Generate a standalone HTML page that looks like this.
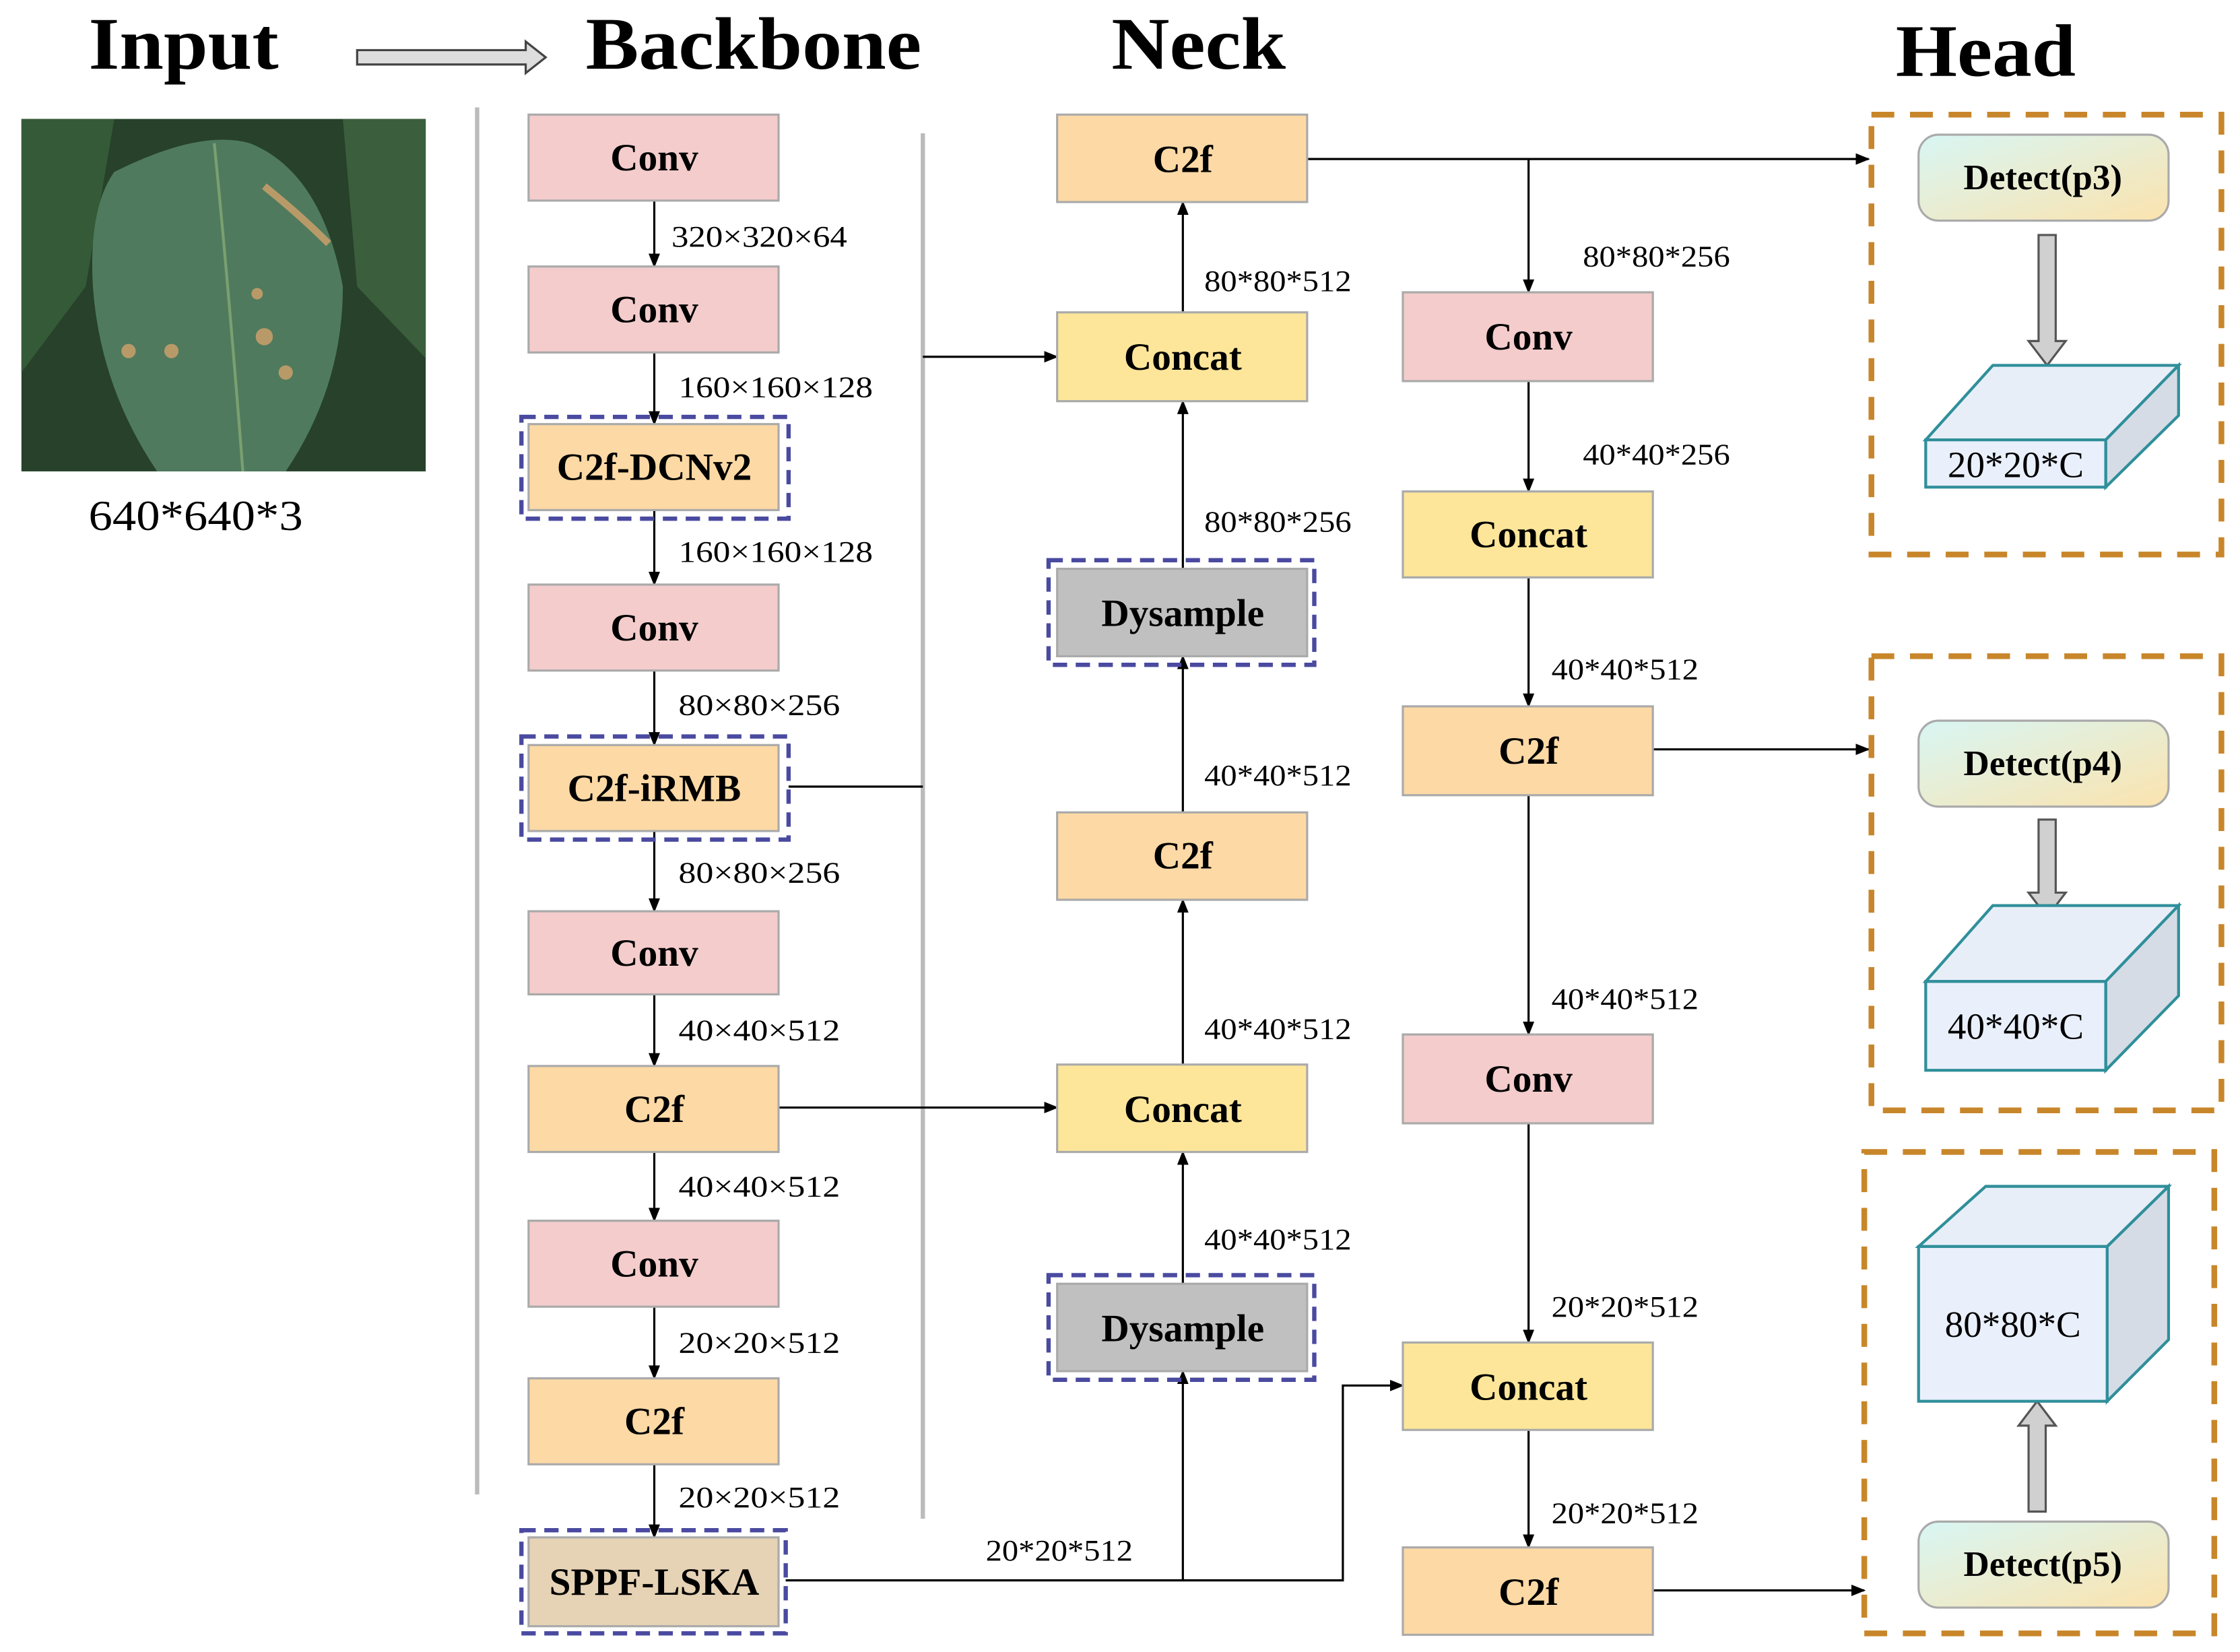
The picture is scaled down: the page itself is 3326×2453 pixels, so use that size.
<!DOCTYPE html>
<html><head><meta charset="utf-8"><style>
html,body{margin:0;padding:0;background:#fff;}
svg{display:block;}
text{font-family:"Liberation Serif",serif;}
.b{font-weight:bold;font-size:27px;text-anchor:middle;}
.l{font-size:21px;}
</style></head><body>
<svg width="3326" height="2453" viewBox="0 0 1568 1153" preserveAspectRatio="none" xmlns="http://www.w3.org/2000/svg">
<defs>
<marker id="a" markerWidth="10" markerHeight="10" refX="9" refY="5" orient="auto" markerUnits="userSpaceOnUse"><path d="M0,1 L10,5 L0,9 z" fill="#000"/></marker>
<linearGradient id="g" x1="0" y1="0" x2="1" y2="1"><stop offset="0" stop-color="#d8f6f4"/><stop offset="1" stop-color="#fbe3ae"/></linearGradient>
</defs>
<!-- titles -->
<text x="62" y="48" font-size="52" font-weight="bold" textLength="133" lengthAdjust="spacingAndGlyphs">Input</text>
<text x="410" y="48" font-size="52" font-weight="bold" textLength="235" lengthAdjust="spacingAndGlyphs">Backbone</text>
<text x="778" y="48" font-size="52" font-weight="bold" textLength="122" lengthAdjust="spacingAndGlyphs">Neck</text>
<text x="1327" y="53" font-size="52" font-weight="bold" textLength="126" lengthAdjust="spacingAndGlyphs">Head</text>
<path d="M250,35 L368,35 L368,29 L382,40 L368,51 L368,45 L250,45 z" fill="#ddd" stroke="#444" stroke-width="1.5"/>
<!-- leaf -->
<rect x="15" y="83" width="283" height="246" fill="#27412a"/>
<path d="M15,83 L80,83 L60,200 L15,260z" fill="#355a38"/>
<path d="M240,83 L298,83 L298,250 L250,200z" fill="#3b5f3c"/>
<path d="M80,120 Q140,90 175,100 Q225,120 240,200 Q240,270 200,329 L110,329 Q70,270 65,200 Q62,145 80,120z" fill="#4f7a5e"/>
<path d="M150,100 Q160,200 170,329" stroke="#7aa070" stroke-width="2" fill="none"/>
<path d="M185,130 Q210,150 230,170" stroke="#b89a68" stroke-width="5" fill="none"/>
<circle cx="90" cy="245" r="5" fill="#b89a68"/><circle cx="120" cy="245" r="5" fill="#b89a68"/><circle cx="185" cy="235" r="6" fill="#b89a68"/><circle cx="200" cy="260" r="5" fill="#b89a68"/><circle cx="180" cy="205" r="4" fill="#b89a68"/>
<text x="62" y="370" font-size="30" textLength="150" lengthAdjust="spacingAndGlyphs">640*640*3</text>
<!-- grey lines -->
<line x1="334" y1="75" x2="334" y2="1043" stroke="#bbb" stroke-width="3"/>
<line x1="646" y1="93" x2="646" y2="1060" stroke="#bbb" stroke-width="3"/>
<g stroke="#000" stroke-width="1.5" fill="none">
<line x1="458" y1="140" x2="458" y2="186" marker-end="url(#a)"/>
<line x1="458" y1="246" x2="458" y2="296" marker-end="url(#a)"/>
<line x1="458" y1="356" x2="458" y2="408" marker-end="url(#a)"/>
<line x1="458" y1="468" x2="458" y2="520" marker-end="url(#a)"/>
<line x1="458" y1="580" x2="458" y2="636" marker-end="url(#a)"/>
<line x1="458" y1="694" x2="458" y2="744" marker-end="url(#a)"/>
<line x1="458" y1="804" x2="458" y2="852" marker-end="url(#a)"/>
<line x1="458" y1="912" x2="458" y2="962" marker-end="url(#a)"/>
<line x1="458" y1="1022" x2="458" y2="1073" marker-end="url(#a)"/>
<path d="M552,549 L646,549"/>
<line x1="646" y1="249" x2="740" y2="249" marker-end="url(#a)"/>
<line x1="545" y1="773" x2="740" y2="773" marker-end="url(#a)"/>
<path d="M550,1103 L940,1103 L940,967 L982,967" marker-end="url(#a)"/>
<line x1="828" y1="1103" x2="828" y2="957" marker-end="url(#a)"/>
<line x1="828" y1="896" x2="828" y2="804" marker-end="url(#a)"/>
<line x1="828" y1="743" x2="828" y2="628" marker-end="url(#a)"/>
<line x1="828" y1="567" x2="828" y2="458" marker-end="url(#a)"/>
<line x1="828" y1="397" x2="828" y2="280" marker-end="url(#a)"/>
<line x1="828" y1="218" x2="828" y2="141" marker-end="url(#a)"/>
<line x1="915" y1="111" x2="1308" y2="111" marker-end="url(#a)"/>
<line x1="1070" y1="111" x2="1070" y2="204" marker-end="url(#a)"/>
<line x1="1070" y1="266" x2="1070" y2="343" marker-end="url(#a)"/>
<line x1="1070" y1="403" x2="1070" y2="493" marker-end="url(#a)"/>
<line x1="1070" y1="555" x2="1070" y2="722" marker-end="url(#a)"/>
<line x1="1070" y1="784" x2="1070" y2="937" marker-end="url(#a)"/>
<line x1="1070" y1="998" x2="1070" y2="1080" marker-end="url(#a)"/>
<line x1="1157" y1="523" x2="1308" y2="523" marker-end="url(#a)"/>
<line x1="1157" y1="1110" x2="1305" y2="1110" marker-end="url(#a)"/>
</g>
<g stroke="#aaa" stroke-width="1.5">
<rect x="370" y="80" width="175" height="60" fill="#f4cccc"/>
<rect x="370" y="186" width="175" height="60" fill="#f4cccc"/>
<rect x="370" y="296" width="175" height="60" fill="#fdd9a5"/>
<rect x="370" y="408" width="175" height="60" fill="#f4cccc"/>
<rect x="370" y="520" width="175" height="60" fill="#fdd9a5"/>
<rect x="370" y="636" width="175" height="58" fill="#f4cccc"/>
<rect x="370" y="744" width="175" height="60" fill="#fdd9a5"/>
<rect x="370" y="852" width="175" height="60" fill="#f4cccc"/>
<rect x="370" y="962" width="175" height="60" fill="#fdd9a5"/>
<rect x="370" y="1073" width="175" height="62" fill="#e6d2b5"/>
<rect x="740" y="80" width="175" height="61" fill="#fdd9a5"/>
<rect x="740" y="218" width="175" height="62" fill="#fde69a"/>
<rect x="740" y="397" width="175" height="61" fill="#c0c0c0"/>
<rect x="740" y="567" width="175" height="61" fill="#fdd9a5"/>
<rect x="740" y="743" width="175" height="61" fill="#fde69a"/>
<rect x="740" y="896" width="175" height="61" fill="#c0c0c0"/>
<rect x="982" y="204" width="175" height="62" fill="#f4cccc"/>
<rect x="982" y="343" width="175" height="60" fill="#fde69a"/>
<rect x="982" y="493" width="175" height="62" fill="#fdd9a5"/>
<rect x="982" y="722" width="175" height="62" fill="#f4cccc"/>
<rect x="982" y="937" width="175" height="61" fill="#fde69a"/>
<rect x="982" y="1080" width="175" height="61" fill="#fdd9a5"/>
</g>
<g fill="none" stroke="#4a4aa0" stroke-width="3" stroke-dasharray="10 6">
<rect x="365" y="291" width="187" height="71"/>
<rect x="365" y="514" width="187" height="72"/>
<rect x="365" y="1068" width="185" height="72"/>
<rect x="734" y="391" width="186" height="73"/>
<rect x="734" y="890" width="186" height="73"/>
</g>
<g class="b">
<text x="458" y="119">Conv</text><text x="458" y="225">Conv</text>
<text x="458" y="335">C2f-DCNv2</text><text x="458" y="447">Conv</text>
<text x="458" y="559">C2f-iRMB</text><text x="458" y="674">Conv</text>
<text x="458" y="783">C2f</text><text x="458" y="891">Conv</text>
<text x="458" y="1001">C2f</text><text x="458" y="1113">SPPF-LSKA</text>
<text x="828" y="120">C2f</text><text x="828" y="258">Concat</text>
<text x="828" y="437">Dysample</text><text x="828" y="606">C2f</text>
<text x="828" y="783">Concat</text><text x="828" y="936">Dysample</text>
<text x="1070" y="244">Conv</text><text x="1070" y="382">Concat</text>
<text x="1070" y="533">C2f</text><text x="1070" y="762">Conv</text>
<text x="1070" y="977">Concat</text><text x="1070" y="1120">C2f</text>
</g>
<g class="l">
<text x="470" y="172" textLength="123" lengthAdjust="spacingAndGlyphs">320×320×64</text><text x="475" y="277" textLength="136" lengthAdjust="spacingAndGlyphs">160×160×128</text>
<text x="475" y="392" textLength="136" lengthAdjust="spacingAndGlyphs">160×160×128</text><text x="475" y="499" textLength="113" lengthAdjust="spacingAndGlyphs">80×80×256</text>
<text x="475" y="616" textLength="113" lengthAdjust="spacingAndGlyphs">80×80×256</text><text x="475" y="726" textLength="113" lengthAdjust="spacingAndGlyphs">40×40×512</text>
<text x="475" y="835" textLength="113" lengthAdjust="spacingAndGlyphs">40×40×512</text><text x="475" y="944" textLength="113" lengthAdjust="spacingAndGlyphs">20×20×512</text>
<text x="475" y="1052" textLength="113" lengthAdjust="spacingAndGlyphs">20×20×512</text>
<text x="843" y="203" textLength="103" lengthAdjust="spacingAndGlyphs">80*80*512</text><text x="843" y="371" textLength="103" lengthAdjust="spacingAndGlyphs">80*80*256</text>
<text x="843" y="548" textLength="103" lengthAdjust="spacingAndGlyphs">40*40*512</text><text x="843" y="725" textLength="103" lengthAdjust="spacingAndGlyphs">40*40*512</text>
<text x="843" y="872" textLength="103" lengthAdjust="spacingAndGlyphs">40*40*512</text><text x="690" y="1089" textLength="103" lengthAdjust="spacingAndGlyphs">20*20*512</text>
<text x="1108" y="186" textLength="103" lengthAdjust="spacingAndGlyphs">80*80*256</text><text x="1108" y="324" textLength="103" lengthAdjust="spacingAndGlyphs">40*40*256</text>
<text x="1086" y="474" textLength="103" lengthAdjust="spacingAndGlyphs">40*40*512</text><text x="1086" y="704" textLength="103" lengthAdjust="spacingAndGlyphs">40*40*512</text>
<text x="1086" y="919" textLength="103" lengthAdjust="spacingAndGlyphs">20*20*512</text><text x="1086" y="1063" textLength="103" lengthAdjust="spacingAndGlyphs">20*20*512</text>
</g>
<g fill="none" stroke="#c8862a" stroke-width="4" stroke-dasharray="16 11">
<rect x="1310" y="80" width="245" height="307"/>
<rect x="1310" y="458" width="245" height="317"/>
<rect x="1305" y="804" width="245" height="336"/>
</g>
<g stroke="#aaa" stroke-width="1.5" fill="url(#g)">
<rect x="1343" y="94" width="175" height="60" rx="14"/>
<rect x="1343" y="503" width="175" height="60" rx="14"/>
<rect x="1343" y="1062" width="175" height="60" rx="14"/>
</g>
<g class="b">
<text x="1430" y="132" font-size="25">Detect(p3)</text>
<text x="1430" y="541" font-size="25">Detect(p4)</text>
<text x="1430" y="1100" font-size="25">Detect(p5)</text>
</g>
<g fill="#d0d0d0" stroke="#555" stroke-width="1.5">
<path d="M1427,164 L1439,164 L1439,238 L1446,238 L1433,255 L1420,238 L1427,238 z"/>
<path d="M1427,572 L1439,572 L1439,623 L1446,623 L1433,640 L1420,623 L1427,623 z"/>
<path d="M1420,1055 L1432,1055 L1432,995 L1439,995 L1426,978 L1413,995 L1420,995 z"/>
</g>
<g stroke="#2f8f9a" stroke-width="2">
<path d="M1348,307 L1395,255 L1525,255 L1474,307 z" fill="#e8eef8"/>
<path d="M1474,307 L1525,255 L1525,290 L1474,340 z" fill="#d6dce6"/>
<rect x="1348" y="307" width="126" height="33" fill="#eaf0fb"/>
<path d="M1348,685 L1395,632 L1525,632 L1474,685 z" fill="#e8eef8"/>
<path d="M1474,685 L1525,632 L1525,695 L1474,747 z" fill="#d6dce6"/>
<rect x="1348" y="685" width="126" height="62" fill="#eaf0fb"/>
<path d="M1343,870 L1390,828 L1518,828 L1475,870 z" fill="#e8eef8"/>
<path d="M1475,870 L1518,828 L1518,935 L1475,978 z" fill="#d6dce6"/>
<rect x="1343" y="870" width="132" height="108" fill="#eaf0fb"/>
</g>
<g font-size="26" text-anchor="middle">
<text x="1411" y="333">20*20*C</text>
<text x="1411" y="725">40*40*C</text>
<text x="1409" y="933">80*80*C</text>
</g>
</svg>
</body></html>
